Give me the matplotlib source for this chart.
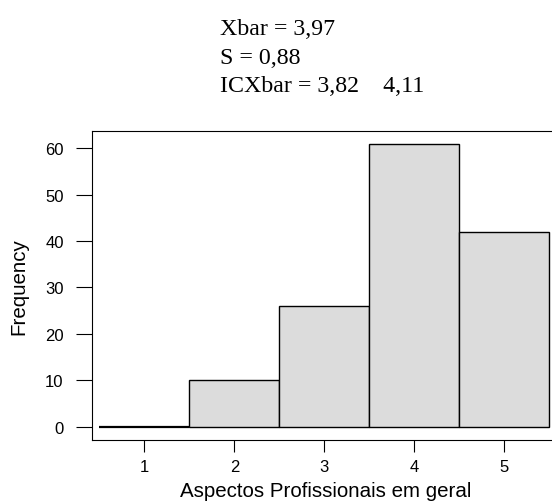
import matplotlib
matplotlib.use('Agg')
import matplotlib.pyplot as plt

# histogram data
bins = [1, 2, 3, 4, 5]
counts = [0, 10, 26, 61, 42]
stats_lines = ['Xbar = 3,97', 'S = 0,88', 'ICXbar = 3,82    4,11']
xlabel = 'Aspectos Profissionais em geral'
ylabel = 'Frequency'
yticks = [0, 10, 20, 30, 40, 50, 60]

W, H = 552, 502
fig = plt.figure(figsize=(W / 100, H / 100), dpi=100)
ax = fig.add_axes([92.2 / W, 1 - 440.7 / H, 1 - 92.2 / W, (440.7 - 132.3) / H])

# the empty first bin shows up as a heavier line at zero
lws = [1.6 if c == 0 else 1.0 for c in counts]
ax.bar(bins, counts, width=1.0, color='#dcdcdc', edgecolor='black', linewidth=lws)

ax.set_xlim(0.421, 5.529)
ax.set_ylim(-2.8, 63.66)
ax.set_xticks(bins)
ax.set_yticks(yticks)

sans = ['Liberation Sans', 'DejaVu Sans']
for lab in ax.get_xticklabels() + ax.get_yticklabels():
    lab.set_family(sans)
    lab.set_fontsize(12)
ax.tick_params(axis='y', length=11.5, width=0.8, pad=9, colors='black')
ax.tick_params(axis='x', length=8.3, width=0.8, pad=5.5, colors='black')

for s in ['left', 'top', 'bottom']:
    ax.spines[s].set_linewidth(0.8)
ax.spines['right'].set_visible(False)

# axis titles placed on the figure
fig.text(325.5 / W, 1 - 497 / H, xlabel, family=sans, fontsize=14.8,
         ha='center', va='baseline')
fig.text(19 / W, 1 - 287 / H, ylabel, family=sans, fontsize=14.8,
         rotation=90, ha='center', va='center')

# summary statistics above the plot
for i, line in enumerate(stats_lines):
    y = 1 - (35 + 28.5 * i) / H
    fig.text(220 / W, y, line, family=['Liberation Serif', 'DejaVu Serif'],
             fontsize=17.2, ha='left', va='baseline')

fig.savefig('out.png', dpi=100)
